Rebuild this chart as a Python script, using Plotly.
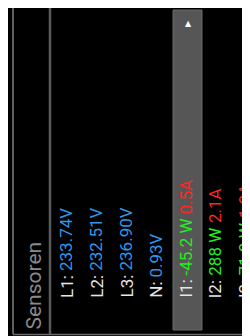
import plotly.graph_objects as go

# ---- data ----
title = "Sensoren"
volt_labels = ["L1", "L2", "L3", "N"]
volt_values = [233.74, 232.51, 236.90, 0.93]
cur_labels = ["I1", "I2", "I3"]
power_values = [-45.2, 288, 71.9]
current_values = [0.5, 2.1, 1.3]
selected = "I1"

W, H = 250, 336
LABEL_C = "#e6e6e6"
BLUE = "#2f98ec"
GREEN = "#22ee22"
RED = "#ff2626"
FONT = "Roboto"
FS = 17

# approximate Roboto advance widths (em) used to chain coloured text pieces
ADV = {" ": 0.2476, "-": 0.2695, ".": 0.263, ":": 0.242, "A": 0.652, "I": 0.274,
       "L": 0.538, "N": 0.697, "V": 0.636, "W": 0.887}
def text_w(s, size=FS):
    return sum(ADV.get(ch, 0.5615) for ch in s) * size

ann = []
shapes = []

# frame lines
shapes.append(dict(type="line", x0=5, x1=5, y0=0, y1=326, line=dict(color="#bdbdbd", width=1)))
shapes.append(dict(type="line", x0=5, x1=250, y0=326.5, y1=326.5, line=dict(color="#6a6a6a", width=1.5)))
shapes.append(dict(type="line", x0=42, x1=42, y0=0, y1=326, line=dict(color="#5a5a5a", width=2.5)))

# title
ann.append(dict(x=25, y=323.5, text=title, textangle=-90, showarrow=False,
                xanchor="center", yanchor="bottom",
                font=dict(family=FONT, size=21, color="#8a8a8a")))

col_x0, col_dx = 58.5, 29.75
ybot = 291
rows = []
for lab, v in zip(volt_labels, volt_values):
    rows.append((lab, [(f"{lab}:", LABEL_C), (f"{v:.2f}V", BLUE)]))
for lab, p, c in zip(cur_labels, power_values, current_values):
    rows.append((lab, [(f"{lab}:", LABEL_C), (f"{p:.3g} W", GREEN), (f"{c:.1f}A", RED)]))

for i, (lab, pieces) in enumerate(rows):
    cx = col_x0 + i * col_dx
    if lab == selected:
        shapes.append(dict(type="rect", x0=cx - 12.5, x1=cx + 16.5, y0=2, y1=322,
                           fillcolor="#565656", line=dict(color="#6b6b6b", width=1), layer="below"))
        ann.append(dict(x=cx + 2.5, y=15, text="▲", showarrow=False, xanchor="center", yanchor="middle",
                        font=dict(family="DejaVu Sans", size=8, color="#ffffff")))
    off = 0.0
    for txt, col in pieces:
        ann.append(dict(x=cx, y=ybot - off, text=txt, textangle=-90, showarrow=False,
                        xanchor="center", yanchor="bottom", borderpad=0,
                        font=dict(family=FONT, size=FS, color=col)))
        off += text_w(txt + " ")

fig = go.Figure()
fig.update_layout(
    width=W, height=H, margin=dict(l=0, r=0, t=0, b=0),
    paper_bgcolor="#000000", plot_bgcolor="#000000",
    xaxis=dict(range=[0, W], visible=False, fixedrange=True),
    yaxis=dict(range=[H, 0], visible=False, fixedrange=True),
    annotations=ann, shapes=shapes, showlegend=False,
)
fig.write_html("out.html", config={"displayModeBar": False})
